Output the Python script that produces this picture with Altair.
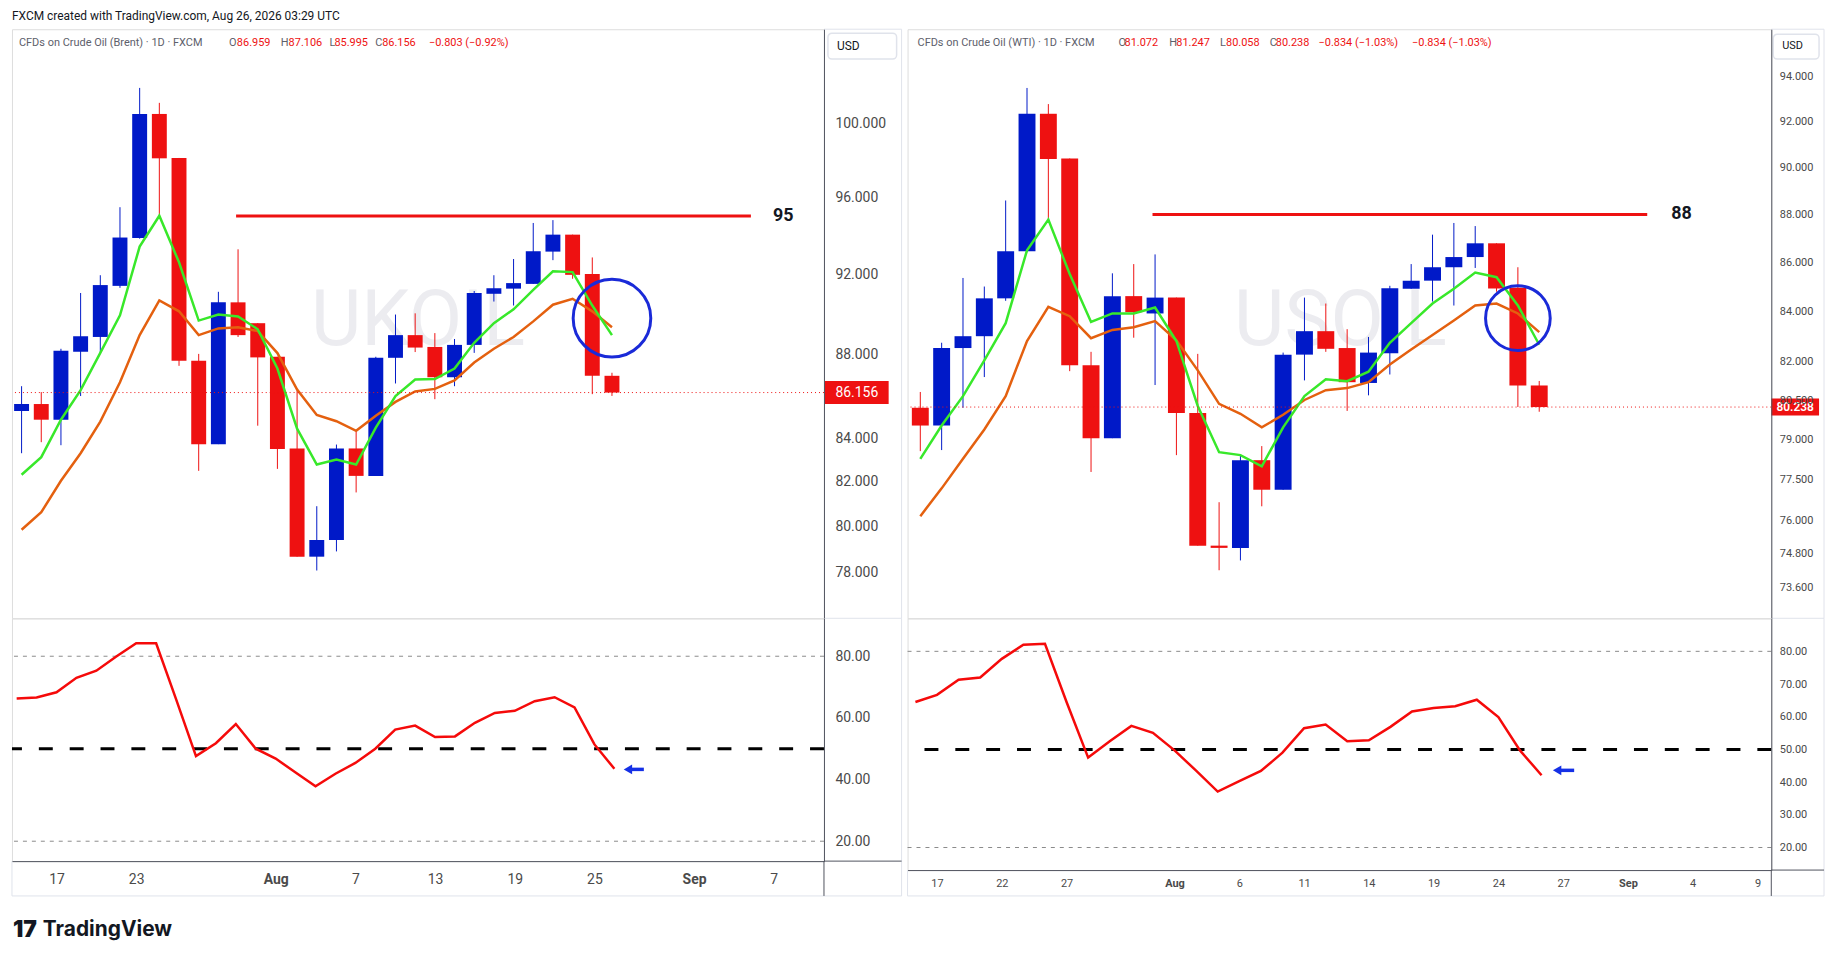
import altair as alt
import pandas as pd

# ---------------- data ----------------
brent_start = "2026-07-15"
brent_open = [85.28, 85.61, 84.87, 88.13, 88.85, 91.40, 93.86, 100.53, 98.11, 87.69, 83.73, 90.57, 89.53, 87.88, 83.53,
              78.67, 79.40, 83.53, 82.27, 87.83, 88.94, 88.36, 86.89, 88.46, 91.00, 91.26, 91.50, 93.15, 94.03, 92.00, 86.959]
brent_high = [86.46, 86.18, 88.27, 91.04, 91.94, 95.47, 101.99, 101.15, 98.11, 88.02, 91.10, 93.27, 89.53, 87.88, 86.26,
              80.90, 83.71, 84.32, 87.88, 89.96, 90.02, 89.04, 88.75, 91.14, 91.94, 92.77, 94.64, 94.79, 94.03, 92.85, 87.106]
brent_low = [83.31, 83.82, 83.68, 85.99, 88.07, 91.30, 93.82, 95.06, 87.44, 82.50, 83.73, 88.85, 84.59, 82.59, 78.67,
             78.07, 78.90, 81.52, 82.27, 86.59, 88.11, 85.84, 86.46, 88.07, 90.61, 90.41, 91.50, 92.71, 91.76, 86.08, 85.995]
brent_close = [85.61, 84.87, 88.17, 88.89, 91.44, 93.88, 100.53, 98.09, 87.69, 83.73, 90.57, 88.94, 87.85, 83.50, 78.67,
               79.40, 83.53, 82.27, 87.83, 88.94, 88.33, 86.89, 88.46, 91.04, 91.28, 91.54, 93.17, 94.03, 91.96, 86.959, 86.156]
brent_fast = [82.32, 83.13, 84.87, 86.27, 88.07, 89.92, 93.41, 95.02, 92.60, 89.66, 89.96, 89.86, 89.23, 87.31, 84.45,
              82.79, 83.02, 82.79, 84.50, 85.99, 86.78, 86.80, 87.31, 88.56, 89.53, 90.22, 91.20, 92.14, 92.10, 90.41, 88.94]
brent_slow = [79.85, 80.63, 82.05, 83.31, 84.78, 86.65, 88.94, 90.67, 90.12, 88.94, 89.27, 89.33, 89.14, 88.06, 86.30,
              85.09, 84.80, 84.35, 85.06, 85.71, 86.21, 86.33, 86.74, 87.60, 88.27, 88.85, 89.62, 90.45, 90.75, 90.12, 89.33]
brent_rsi = [66.3, 66.6, 68.3, 73.0, 75.3, 79.9, 84.2, 84.2, 66.1, 47.6, 51.8, 58.0, 50.0, 46.8, 42.3,
             37.8, 41.9, 45.4, 50.0, 56.2, 57.5, 53.8, 54.0, 58.4, 61.6, 62.3, 65.4, 66.7, 63.4, 51.4, 43.5]
brent_ticks = [100, 96, 92, 88, 84, 82, 80, 78]
brent_tick_dates = ["2026-07-17", "2026-07-23", "2026-08-03", "2026-08-07", "2026-08-13",
                    "2026-08-19", "2026-08-25", "2026-09-01", "2026-09-07"]
brent_tick_labels = ["17", "23", "Aug", "7", "13", "19", "25", "Sep", "7"]
brent_level = 95
brent_level_span = [10.9, 37.06]
brent_circle = [30.0, 89.78]

wti_start = "2026-07-16"
wti_open = [80.21, 79.53, 82.54, 83.01, 84.53, 86.46, 92.35, 90.39, 81.86, 79.05, 84.62, 83.92, 84.56, 80.01, 75.08,
            75.00, 78.22, 77.12, 82.28, 83.21, 82.54, 81.17, 82.33, 84.92, 85.25, 85.80, 86.22, 86.79, 84.96, 81.072]
wti_high = [80.82, 82.75, 85.36, 85.01, 88.59, 93.50, 92.78, 90.39, 82.39, 85.55, 85.93, 86.33, 84.56, 82.31, 76.66,
            78.44, 78.75, 82.36, 84.56, 84.32, 83.29, 82.98, 85.04, 85.93, 87.15, 87.64, 87.51, 86.79, 85.80, 81.247]
wti_low = [78.56, 78.60, 80.21, 81.40, 84.43, 86.42, 87.81, 81.63, 77.78, 79.05, 82.95, 81.09, 78.41, 75.08, 74.20,
           74.55, 76.51, 77.12, 81.27, 82.39, 80.09, 80.69, 81.50, 84.92, 84.40, 84.24, 85.77, 84.80, 80.24, 80.058]
wti_close = [79.53, 82.54, 83.01, 84.53, 86.46, 92.35, 90.37, 81.86, 79.05, 84.62, 83.97, 84.56, 80.01, 75.08, 75.00,
             78.22, 77.12, 82.28, 83.21, 82.51, 81.20, 82.36, 84.94, 85.25, 85.80, 86.22, 86.79, 84.93, 81.072, 80.238]
wti_fast = [78.27, 79.53, 80.66, 82.05, 83.53, 86.50, 87.78, 85.52, 83.58, 83.92, 83.92, 84.16, 82.82, 80.28, 78.52,
            78.41, 77.99, 79.46, 80.66, 81.31, 81.24, 81.61, 82.75, 83.53, 84.32, 84.92, 85.58, 85.39, 84.24, 82.67]
wti_slow = [76.15, 77.17, 78.27, 79.38, 80.66, 82.82, 84.19, 83.81, 82.93, 83.26, 83.37, 83.61, 82.85, 81.66, 80.36,
            79.98, 79.46, 79.94, 80.51, 80.89, 80.97, 81.20, 81.89, 82.48, 83.06, 83.64, 84.24, 84.32, 83.92, 83.17]
wti_rsi = [64.5, 66.7, 71.3, 72.0, 77.7, 82.0, 82.3, 64.5, 47.5, 52.5, 57.2, 55.1, 49.7, 43.5, 37.1,
           40.3, 43.4, 49.0, 56.5, 57.6, 52.5, 52.8, 56.9, 61.6, 62.7, 63.2, 65.2, 59.9, 49.7, 42.1]
wti_ticks = [94, 92, 90, 88, 86, 84, 82, 80.5, 79, 77.5, 76, 74.8, 73.6]
wti_tick_dates = ["2026-07-17", "2026-07-22", "2026-07-27", "2026-08-03", "2026-08-06", "2026-08-11", "2026-08-14",
                  "2026-08-19", "2026-08-24", "2026-08-27", "2026-09-01", "2026-09-04", "2026-09-09"]
wti_tick_labels = ["17", "22", "27", "Aug", "6", "11", "14", "19", "24", "27", "Sep", "4", "9"]
wti_level = 88
wti_level_span = [10.88, 34.06]
wti_circle = [28.0, 83.73]

rsi_bands = [80, 20]
rsi_mid = 50

header = "FXCM created with TradingView.com, Aug 26, 2026 03:29 UTC"

# ---------------- style ----------------
FONT = "Roboto"
BLUE = "#0019c8"
RED = "#ee1111"
GREEN = "#38e82a"
ORANGE = "#e4600f"
CIRC = "#1a2ad8"
ARROW = "#1530e6"
AXIS = "#50535e"
LBL = "#4a4a4a"
GRAY = "#5d606b"
INK = "#131722"
FRAME = "#e0e3eb"

DUMMY = pd.DataFrame({"k": [0]})


def hrule(x1, x2, y, color):
    return alt.Chart(DUMMY).mark_rule(color=color, strokeWidth=1).encode(
        x=alt.value(x1), x2=alt.value(x2), y=alt.value(y))


def vrule(x, y1, y2, color):
    return alt.Chart(DUMMY).mark_rule(color=color, strokeWidth=1).encode(
        x=alt.value(x), y=alt.value(y1), y2=alt.value(y2))


def fmt_minus(s):
    return s.replace("-", "\u2212")


def make_df(start, o, h, l, c, f, s, r):
    n = len(o)
    return pd.DataFrame({
        "i": list(range(n)),
        "date": pd.bdate_range(start, periods=n).strftime("%Y-%m-%d"),
        "open": o, "high": h, "low": l, "close": c, "fast": f, "slow": s, "rsi": r,
    })


def tick_index(start, dates):
    cal = pd.bdate_range(start, periods=80)
    return [int(cal.get_loc(pd.Timestamp(d))) for d in dates]


def panel(df, cfg):
    W, Hp, Hr = cfg["W"], cfg["Hp"], cfg["Hr"]
    AX, BOT = cfg["ax_w"], cfg["bot_h"]
    xs = alt.Scale(domain=cfg["xdom"], nice=False, zero=False)
    ys = alt.Scale(type="log", domain=cfg["ydom"], nice=False, zero=False)
    rs = alt.Scale(domain=cfg["rdom"], nice=False, zero=False)
    col = alt.condition("datum.close >= datum.open", alt.value(BLUE), alt.value(RED))
    base = alt.Chart(df)

    yaxis = alt.Axis(orient="right", values=cfg["yticks"], format=".3f", ticks=False, grid=False,
                     domain=True, domainColor=AXIS, labelColor=LBL, labelFontSize=cfg["fs"],
                     labelFont=FONT, labelPadding=cfg["lp"], title=None, zindex=1)

    def PX(f):
        return alt.X(f, scale=xs, axis=None)

    def PY(f):
        return alt.Y(f, scale=ys, axis=yaxis)

    wm = alt.Chart(pd.DataFrame({"t": [cfg["wm"]]})).mark_text(
        font=FONT, fontSize=78, color="#ececf0", align="center", baseline="middle"
    ).encode(x=alt.value(cfg["wm_xy"][0]), y=alt.value(cfg["wm_xy"][1]), text="t:N")

    wick = base.mark_rule(strokeWidth=1).encode(x=PX("i:Q"), y=PY("low:Q"), y2="high:Q", color=col)
    body = base.mark_bar(size=cfg["bw"]).encode(x=PX("i:Q"), y=PY("open:Q"), y2="close:Q", color=col)
    slow = base.mark_line(color=ORANGE, strokeWidth=2.5).encode(x=PX("i:Q"), y=PY("slow:Q"))
    fast = base.mark_line(color=GREEN, strokeWidth=2.5).encode(x=PX("i:Q"), y=PY("fast:Q"))

    lvl_df = pd.DataFrame({"x": [cfg["lvl_span"][0]], "x2": [cfg["lvl_span"][1]], "y": [cfg["lvl"]],
                           "lx": [cfg["lvl_lx"]], "t": [str(cfg["lvl"])]})
    lvl = alt.Chart(lvl_df).mark_rule(color=RED, strokeWidth=3).encode(
        x=PX("x:Q"), x2="x2:Q", y=PY("y:Q"))
    lvl_t = alt.Chart(lvl_df).mark_text(font=FONT, fontSize=18, fontWeight="bold", color=INK,
                                        align="center", baseline="middle").encode(
        x=PX("lx:Q"), y=PY("y:Q"), text="t:N")

    circ_df = pd.DataFrame({"x": [cfg["circ"][0]], "y": [cfg["circ"][1]]})
    circ = alt.Chart(circ_df).mark_point(shape="circle", filled=False, size=cfg["circ_d"] ** 2,
                                         strokeWidth=3, color=CIRC, opacity=1).encode(
        x=PX("x:Q"), y=PY("y:Q"))

    last = df.tail(1)
    pline = alt.Chart(last).mark_rule(color=RED, strokeDash=[1, 3], strokeWidth=1).encode(y=PY("close:Q"))
    th = cfg["tag_h"] / 2
    tag = alt.Chart(last).mark_rect(color=RED, yOffset=-th, y2Offset=th).encode(
        x=alt.value(cfg["tag_x"][0]), x2=alt.value(cfg["tag_x"][1]), y=PY("close:Q"), y2="close:Q")
    tag_t = alt.Chart(last).mark_text(font=FONT, color="white", fontSize=cfg["tag_fs"], fontWeight=cfg["tag_fw"],
                                      align="center", baseline="middle").encode(
        x=alt.value((cfg["tag_x"][0] + cfg["tag_x"][1]) / 2),
        y=PY("close:Q"), text=alt.Text("close:Q", format=".3f"))

    usd = alt.Chart(pd.DataFrame({"t": ["USD"]}))
    usd_box = usd.mark_rect(fill="white", stroke="#e0e3eb", strokeWidth=1.5, cornerRadius=4).encode(
        x=alt.value(cfg["usd_box"][0]), x2=alt.value(cfg["usd_box"][1]),
        y=alt.value(cfg["usd_box"][2]), y2=alt.value(cfg["usd_box"][3]))
    usd_t = usd.mark_text(font=FONT, fontSize=cfg["usd_fs"], color=INK, align="left", baseline="middle").encode(
        x=alt.value(cfg["usd_tx"]), y=alt.value(17), text="t:N")

    leg_df = pd.DataFrame(cfg["legend"], columns=["t", "c", "x"])
    leg = alt.Chart(leg_df).mark_text(font=FONT, fontSize=11, align="left", baseline="middle").encode(
        x=alt.X("x:Q", scale=None, axis=None), y=alt.value(14), text="t:N",
        color=alt.Color("c:N", scale=None))

    pframe = [hrule(W, W + AX, 0, FRAME), vrule(W + AX, 0, Hp, FRAME), hrule(W, W + AX, Hp, FRAME)]
    price = alt.layer(wm, wick, body, slow, fast, lvl, lvl_t, circ, pline, tag, tag_t, *pframe,
                      usd_box, usd_t, leg).properties(width=W, height=Hp)

    # ---------- RSI pane ----------
    tidx = cfg["tick_idx"]
    labs = cfg["tick_labels"]
    expr = ""
    for v, s in zip(tidx, labs):
        expr += "datum.value == %d ? '%s' : " % (v, s)
    expr += "''"
    months = [v for v, s in zip(tidx, labs) if not s.isdigit()]
    bold_test = " || ".join("datum.value == %d" % v for v in months)
    xaxis = alt.Axis(values=tidx, labelExpr=expr, ticks=False, grid=False, domain=True,
                     domainColor=AXIS, labelColor=LBL, labelFontSize=cfg["xfs"], labelFont=FONT,
                     labelPadding=cfg["xlp"], title=None, zindex=1,
                     labelFontWeight={"condition": {"test": bold_test, "value": "bold"}, "value": "normal"})
    raxis = alt.Axis(orient="right", values=cfg["rticks"], format=".2f", ticks=False, grid=False,
                     domain=True, domainColor=AXIS, labelColor=LBL, labelFontSize=cfg["fs"],
                     labelFont=FONT, labelPadding=cfg["lp"], title=None, zindex=1)

    def RX(f):
        return alt.X(f, scale=xs, axis=xaxis)

    def RY(f):
        return alt.Y(f, scale=rs, axis=raxis)

    bands = alt.Chart(pd.DataFrame({"y": rsi_bands})).mark_rule(
        color="#8a8a8a", strokeDash=[4, 5], strokeWidth=1).encode(y=RY("y:Q"))
    mid = alt.Chart(pd.DataFrame({"y": [rsi_mid]})).mark_rule(
        color="black", strokeDash=[14, 17], strokeWidth=3).encode(y=RY("y:Q"))
    rline = base.mark_line(color="#f50a0a", strokeWidth=2.5).encode(x=RX("i:Q"), y=RY("rsi:Q"))
    ar = cfg["arrow"]
    arr_df = pd.DataFrame({"x": [ar[0]], "x2": [ar[1]], "xh": [ar[2]], "y": [ar[3]]})
    shaft = alt.Chart(arr_df).mark_rule(color=ARROW, strokeWidth=3.5).encode(
        x=RX("xh:Q"), x2="x2:Q", y=RY("y:Q"))
    head = alt.Chart(arr_df).mark_point(shape="triangle-left", filled=True, size=95, color=ARROW, opacity=1).encode(
        x=RX("xh:Q"), y=RY("y:Q"))
    rframe = [vrule(W + AX, 0, Hr + BOT, FRAME), hrule(0, W + AX, Hr + BOT, FRAME), vrule(0, Hr, Hr + BOT, FRAME),
              hrule(W, W + AX, Hr, AXIS), vrule(W, Hr, Hr + BOT, AXIS)]
    layers = [bands, mid, rline, shaft, head] + rframe
    if cfg.get("footer"):
        ft = alt.Chart(pd.DataFrame({"t": ["TradingView"]}))
        layers.append(ft.mark_text(font="Inter", fontSize=21, fontWeight="bold", color=INK, align="left",
                                   baseline="middle").encode(x=alt.value(31), y=alt.value(313), text="t:N"))
        lg = alt.Chart(pd.DataFrame({"t": ["17"]}))
        layers.append(lg.mark_text(font="Inter", fontSize=23, fontWeight=900, color=INK, align="left",
                                   baseline="middle").encode(
            x=alt.value(1), y=alt.value(313), text="t:N"))
    rsi = alt.layer(*layers).properties(width=W, height=Hr)
    return alt.vconcat(price, rsi, spacing=0, bounds="flush")


def legend_items(name, o, h, l, c, prev, xs, extra=0):
    ch = c - prev
    pct = ch / prev * 100
    chg = fmt_minus("%.3f (%.2f%%)" % (ch, pct))
    items = [(name, GRAY, xs[0]),
             ("O", GRAY, xs[1]), ("%.3f" % o, RED, xs[2]),
             ("H", GRAY, xs[3]), ("%.3f" % h, RED, xs[4]),
             ("L", GRAY, xs[5]), ("%.3f" % l, RED, xs[6]),
             ("C", GRAY, xs[7]), ("%.3f" % c, RED, xs[8]),
             (chg, RED, xs[9])]
    if extra:
        items.append((chg, RED, xs[10]))
    return items


bdf = make_df(brent_start, brent_open, brent_high, brent_low, brent_close, brent_fast, brent_slow, brent_rsi)
wdf = make_df(wti_start, wti_open, wti_high, wti_low, wti_close, wti_fast, wti_slow, wti_rsi)

left_cfg = dict(
    W=816, Hp=592, Hr=244, ax_w=78, bot_h=35, xdom=[-0.235, 40.52], ydom=[76.03, 105.36], rdom=[13.55, 92.3],
    yticks=brent_ticks, rticks=[20, 40, 60, 80], fs=14, lp=11, bw=15, xfs=14, xlp=12,
    wm="UKOIL", wm_xy=[408, 294], lvl=brent_level, lvl_span=brent_level_span, lvl_lx=38.7,
    circ=brent_circle, circ_d=78, tag_x=[817, 881], tag_h=23, tag_fs=14, tag_fw="normal",
    usd_box=[820, 889, 4, 30], usd_tx=829, usd_fs=12,
    legend=legend_items("CFDs on Crude Oil (Brent) \u00b7 1D \u00b7 FXCM", brent_open[-1], brent_high[-1],
                        brent_low[-1], brent_close[-1], brent_close[-2],
                        [7, 218, 226, 270, 278, 319, 324, 365, 372, 419]),
    arrow=[30.48, 31.48, 30.68, 43.3],
    tick_idx=tick_index(brent_start, brent_tick_dates), tick_labels=brent_tick_labels, footer=True,
)
right_cfg = dict(
    W=868, Hp=592, Hr=253, ax_w=53, bot_h=26, xdom=[-0.364, 39.64], ydom=[72.51, 96.17], rdom=[13.1, 90.1],
    yticks=wti_ticks, rticks=[20, 30, 40, 50, 60, 70, 80], fs=11, lp=8, bw=17, xfs=11, xlp=8,
    wm="USOIL", wm_xy=[435, 294], lvl=wti_level, lvl_span=wti_level_span, lvl_lx=35.67,
    circ=wti_circle, circ_d=65, tag_x=[868, 916], tag_h=17, tag_fs=12, tag_fw=600,
    usd_box=[870, 916, 5, 30], usd_tx=879, usd_fs=11,
    legend=legend_items("CFDs on Crude Oil (WTI) \u00b7 1D \u00b7 FXCM", wti_open[-1], wti_high[-1],
                        wti_low[-1], wti_close[-1], wti_close[-2],
                        [10, 212, 218, 263, 270, 314, 320, 364, 370, 413, 507], extra=1),
    arrow=[29.54, 30.51, 29.72, 43.6],
    tick_idx=tick_index(wti_start, wti_tick_dates), tick_labels=wti_tick_labels,
)

left = panel(bdf, left_cfg)
right = panel(wdf, right_cfg)

chart = alt.hconcat(left, right, spacing=3).properties(
    title=alt.TitleParams(header, anchor="start", fontSize=12, fontWeight="normal", font=FONT,
                          color=INK, offset=5, frame="group"),
    padding={"left": 2, "top": 0, "right": 5, "bottom": 5},
).configure_view(stroke=FRAME, strokeWidth=1).configure(font=FONT, background="white")

chart.save("out.html", embed_options={"renderer": "svg", "actions": False})
